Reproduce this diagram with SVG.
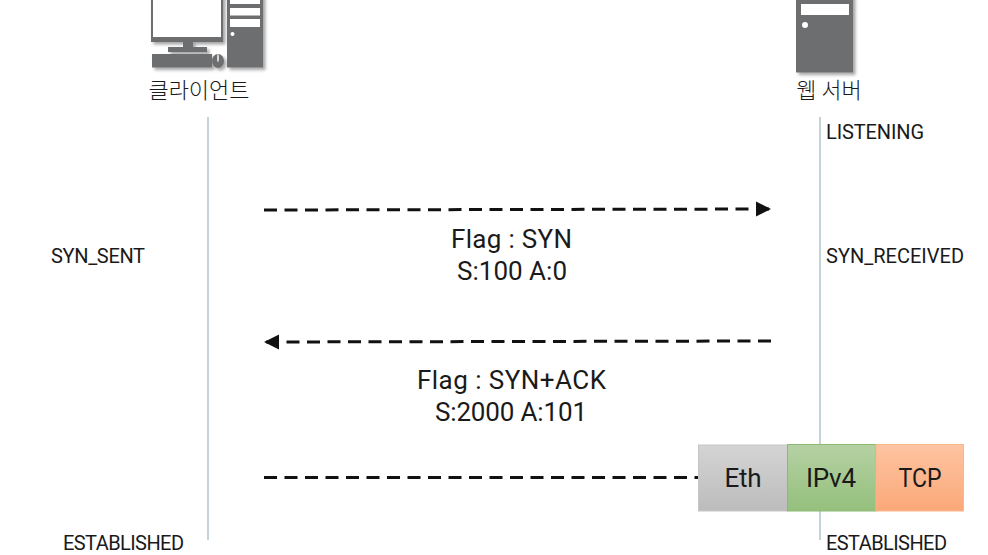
<svg xmlns="http://www.w3.org/2000/svg" width="988" height="555" viewBox="0 0 988 555">
<style>
text{font-family:Roboto,"Open Sans","Noto Sans CJK KR",sans-serif;fill:#1a1a1a;font-weight:400}
.state{font-size:20px}
.msg{font-size:26px;text-anchor:middle}
.name{font-family:"Noto Sans CJK KR","Noto Sans",sans-serif;font-size:22px;text-anchor:middle;font-weight:300}
.life{stroke:#9db5c2;stroke-width:1.2;fill:none}
.flow{stroke:#111;stroke-width:3;stroke-dasharray:13 7.500;fill:none}
.pc{fill:#6d6e70}
.w{fill:#fff}
.box{stroke-width:1}
.lb{font-size:26px;text-anchor:middle}
.sh{filter:url(#soft)}
</style>
<defs>
<filter id="soft" x="-20%" y="-20%" width="150%" height="150%"><feDropShadow dx="2.500" dy="2.500" stdDeviation="1.500" flood-color="#000" flood-opacity=".35"/></filter>
<linearGradient id="gEth" x1="0" y1="0" x2="0" y2="1"><stop offset="0" stop-color="#d4d4d4"/><stop offset="1" stop-color="#bcbcbc"/></linearGradient>
<linearGradient id="gIp" x1="0" y1="0" x2="0" y2="1"><stop offset="0" stop-color="#b5d1a4"/><stop offset="1" stop-color="#94c07c"/></linearGradient>
<linearGradient id="gTcp" x1="0" y1="0" x2="0" y2="1"><stop offset="0" stop-color="#fdc4a2"/><stop offset="1" stop-color="#fba878"/></linearGradient>
<marker id="ah" markerUnits="userSpaceOnUse" markerWidth="16" markerHeight="16" refX="15" refY="8" orient="auto-start-reverse"><path d="M0 0.500L15 8L0 15.500Z" fill="#111"/></marker>
</defs>
<g id="client">
<g class="sh">
<rect class="pc" x="151" y="-6" width="72" height="48"/>
<rect class="pc" x="183" y="42" width="10" height="6"/>
<rect class="pc" x="168" y="47" width="39" height="5"/>
<rect class="pc" x="152" y="54" width="60" height="13.500"/>
<ellipse class="pc" cx="218" cy="61" rx="6" ry="7"/>
<rect class="pc" x="227" y="-6" width="36" height="73.500"/>
</g>
<rect class="w" x="153" y="0" width="68" height="37"/>
<rect class="w" x="230" y="0" width="30" height="4"/>
<rect class="w" x="230" y="8" width="30" height="7.500"/>
<rect class="w" x="230" y="19" width="30" height="8"/>
<circle class="w" cx="232.500" cy="34" r="2"/>
<ellipse cx="218" cy="58" rx="1" ry="4" fill="#ddd"/>
<text class="name" x="199" y="98">클라이언트</text>
</g>
<g id="server">
<rect class="pc sh" x="796" y="-6" width="57" height="78.500"/>
<rect class="w" x="801" y="4" width="48" height="11"/>
<circle class="w" cx="805" cy="25" r="3"/>
<text class="name" x="829" y="98">웹 서버</text>
</g>
<g id="connectors">
<line class="life" x1="208" y1="117" x2="208" y2="540"/>
<line class="life" x1="820" y1="117" x2="820" y2="540"/>
<path class="flow" d="M264 210L771 209" marker-end="url(#ah)"/>
<path class="flow" d="M771 341L264 342" marker-end="url(#ah)"/>
<path class="flow" d="M264 477.500H698"/>
</g>
<g id="packet">
<g id="eth"><rect class="box" x="698.500" y="445" width="89" height="66" fill="url(#gEth)" stroke="#c6c6c6"/><text class="lb" x="743" y="487" textLength="37">Eth</text></g>
<g id="ipv4"><rect class="box" x="787.500" y="444.500" width="88.500" height="66.500" fill="url(#gIp)" stroke="#8cba74"/><text class="lb" x="831" y="487" textLength="50">IPv4</text></g>
<g id="tcp"><rect class="box" x="876" y="444.500" width="87.500" height="66.500" fill="url(#gTcp)" stroke="#f9b78e"/><text class="lb" x="920" y="487" textLength="43" lengthAdjust="spacingAndGlyphs">TCP</text></g>
</g>
<g id="labels">
<text class="state" x="826" y="138.500" textLength="98">LISTENING</text>
<text class="state" x="51" y="263" textLength="94">SYN_SENT</text>
<text class="state" x="826" y="263" textLength="138">SYN_RECEIVED</text>
<text class="state" x="63" y="550" textLength="121">ESTABLISHED</text>
<text class="state" x="826" y="550" textLength="121">ESTABLISHED</text>
<text class="msg" x="511.500" y="248" textLength="121">Flag : SYN</text>
<text class="msg" x="512" y="279.500" textLength="110">S:100 A:0</text>
<text class="msg" x="511.500" y="389" textLength="189">Flag : SYN+ACK</text>
<text class="msg" x="511" y="420.500" textLength="152">S:2000 A:101</text>
</g>
</svg>
